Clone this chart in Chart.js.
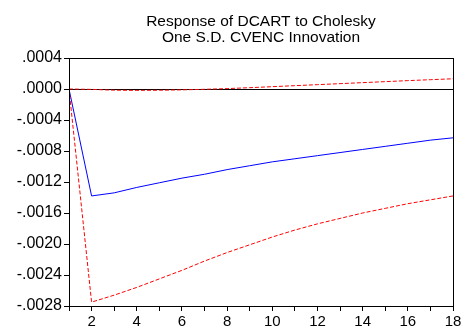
<!DOCTYPE html>
<html>
<head>
<meta charset="utf-8">
<script src="https://cdn.jsdelivr.net/npm/chart.js@4.4.0/dist/chart.umd.min.js"></script>
<style>
  html, body { margin: 0; padding: 0; background: #fff; }
  #wrap { width: 472px; height: 330px; }
</style>
</head>
<body>
<div id="wrap"><canvas id="chart" width="472" height="330"></canvas></div>
<script>
// periods 1..18
var periods = [1, 2, 3, 4, 5, 6, 7, 8, 9, 10, 11, 12, 13, 14, 15, 16, 17, 18];
// impulse response (blue)
var response = [0, -0.00138, -0.00134, -0.00127, -0.00121, -0.00115, -0.00110, -0.00104, -0.00099,
    -0.00094, -0.00090, -0.00086, -0.00082, -0.00078, -0.00074, -0.00070, -0.00066, -0.00063];
// +/- 2 S.E. bands (red dashed)
var upperBand = [0, -0.000005, -0.000015, -0.000018, -0.000016, -0.000011, -0.000004, 0.000005, 0.000017,
    0.00003, 0.000043, 0.000056, 0.000069, 0.000082, 0.000095, 0.000108, 0.00012, 0.000132];
var lowerBand = [0, -0.00275, -0.00266, -0.00256, -0.00245, -0.00234, -0.00222, -0.00211, -0.00201,
    -0.00191, -0.00182, -0.00174, -0.00167, -0.00160, -0.00154, -0.00148, -0.00143, -0.00138];
var titleLines = ['Response of DCART to Cholesky', 'One S.D. CVENC Innovation'];

function toPoints(vals) {
    return periods.map(function (p, i) { return { x: p, y: vals[i] }; });
}

// title centred over the plot area + frame on top/right
var framePlugin = {
    id: 'frame',
    afterDraw: function (chart) {
        var c = chart.ctx, a = chart.chartArea;
        c.save();
        c.strokeStyle = '#000';
        c.lineWidth = 1;
        c.strokeRect(Math.round(a.left) + 0.5, Math.round(a.top) + 0.5,
            Math.round(a.right - a.left), Math.round(a.bottom - a.top));
        c.fillStyle = '#000';
        c.font = '15.5px Arial, "Liberation Sans", sans-serif';
        c.textAlign = 'center';
        c.textBaseline = 'alphabetic';
        var cx = (a.left + a.right) / 2;
        c.fillText(titleLines[0], cx, 26);
        c.fillText(titleLines[1], cx, 42);
        c.restore();
    }
};

var fontFamily = 'Arial, "Liberation Sans", sans-serif';

new Chart(document.getElementById('chart'), {
    type: 'line',
    data: {
        datasets: [
            { data: toPoints(upperBand), borderColor: '#ff0000', borderWidth: 1, borderDash: [4, 2], pointRadius: 0, tension: 0 },
            { data: toPoints(lowerBand), borderColor: '#ff0000', borderWidth: 1, borderDash: [4, 2], pointRadius: 0, tension: 0 },
            { data: toPoints(response), borderColor: '#0000ff', borderWidth: 1, pointRadius: 0, tension: 0 }
        ]
    },
    options: {
        responsive: false,
        animation: false,
        events: [],
        layout: { padding: { top: 58, right: 19, left: 0, bottom: 0 } },
        plugins: { legend: { display: false }, title: { display: false }, tooltip: { enabled: false } },
        scales: {
            x: {
                type: 'linear',
                min: 1,
                max: 18,
                border: { color: '#000', width: 1 },
                grid: { drawOnChartArea: false, tickColor: '#000', tickLength: 5 },
                ticks: {
                    stepSize: 1,
                    autoSkip: false,
                    maxRotation: 0,
                    padding: 2,
                    color: '#000',
                    font: { family: fontFamily, size: 15 },
                    callback: function (v) { return v % 2 === 0 ? String(v) : ''; }
                },
                afterFit: function (s) { s.height = 24; }
            },
            y: {
                min: -0.0028,
                max: 0.0004,
                border: { color: '#000', width: 1 },
                grid: {
                    color: function (ctx) { return ctx.tick && Math.abs(ctx.tick.value) < 1e-9 ? '#000' : 'rgba(0,0,0,0)'; },
                    tickColor: '#000',
                    tickLength: 5
                },
                ticks: {
                    stepSize: 0.0004,
                    padding: 2,
                    color: '#000',
                    font: { family: fontFamily, size: 16 },
                    callback: function (v) {
                        if (Math.abs(v) < 1e-9) return '.0000';
                        return v.toFixed(4).replace('0.', '.');
                    }
                },
                afterFit: function (s) { s.width = 69; }
            }
        }
    },
    plugins: [framePlugin]
});
</script>
</body>
</html>
